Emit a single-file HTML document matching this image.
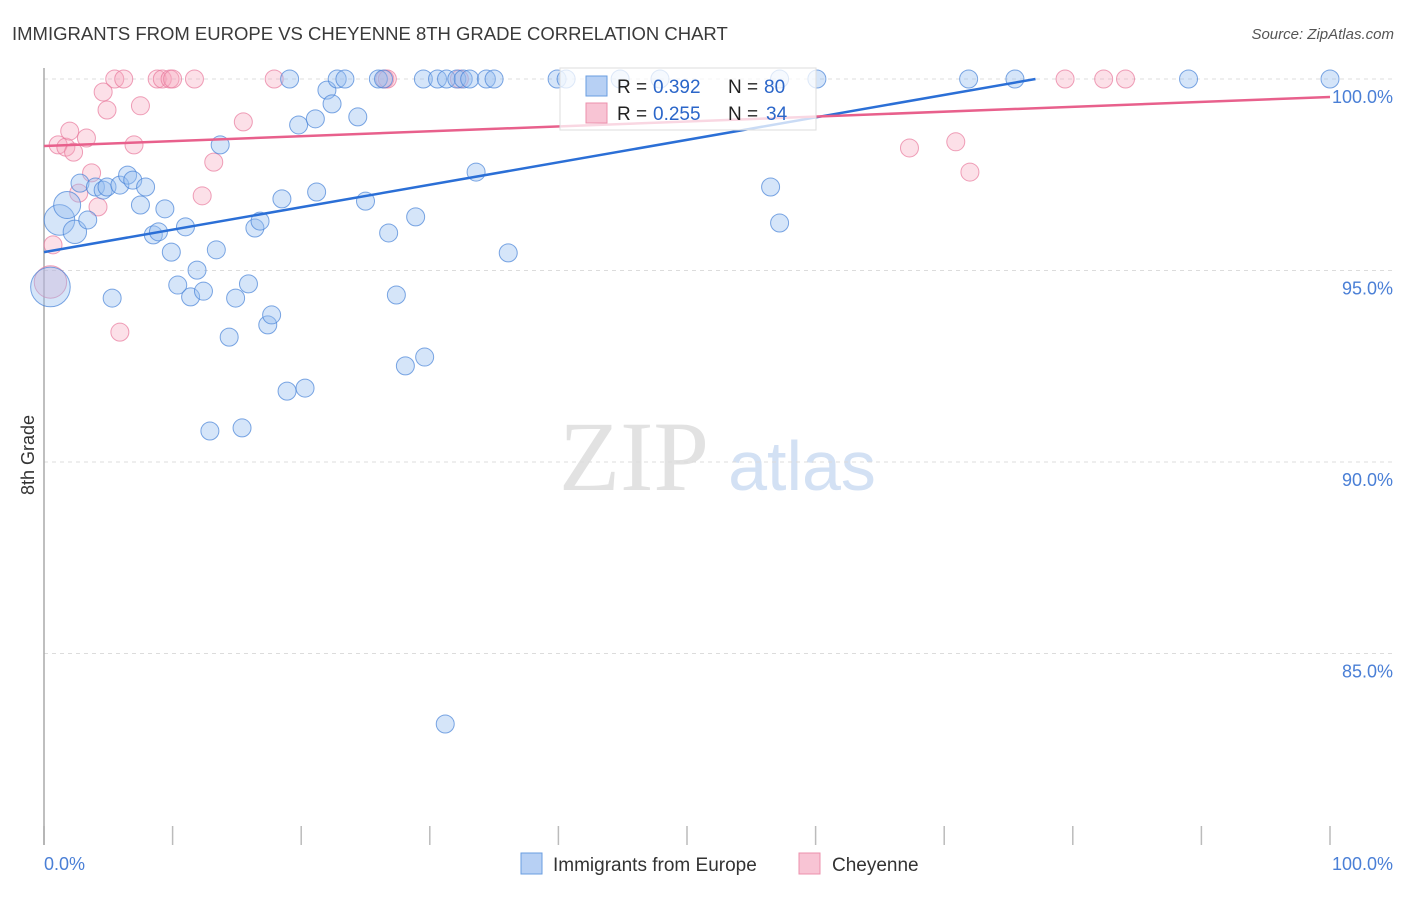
<!DOCTYPE html>
<html><head><meta charset="utf-8"><style>
body{margin:0;background:#fff;font-family:"Liberation Sans",sans-serif;}
</style></head><body>
<svg id="chart" width="1406" height="892" viewBox="0 0 1406 892" font-family="Liberation Sans, sans-serif">
<text x="12" y="40" font-size="18.5" fill="#3a3a3a">IMMIGRANTS FROM EUROPE VS CHEYENNE 8TH GRADE CORRELATION CHART</text>
<text x="1394" y="39" font-size="15" fill="#555" font-style="italic" text-anchor="end">Source: ZipAtlas.com</text>
<text transform="translate(34,455) rotate(-90)" font-size="18" fill="#333" text-anchor="middle">8th Grade</text>
<g>
<text x="634" y="490" font-size="100" fill="#e2e2e2" text-anchor="middle" style="font-family:'Liberation Serif',serif">ZIP</text>
<text x="802" y="490" font-size="70" fill="#d3e1f4" text-anchor="middle">atlas</text>
</g>
<g id="grid"></g>
<g id="ticks"></g>
<line x1="44" y1="68" x2="44" y2="845" stroke="#aaa" stroke-width="1.5"/>
<g id="pts"></g>
<g id="lines"></g>
<g>
<rect x="560" y="68" width="256" height="62" fill="rgba(255,255,255,0.75)" stroke="#ddd"/>
<rect x="586" y="76" width="21" height="20" fill="#b7d0f4" stroke="#6a9ee0"/>
<text x="617" y="93" font-size="19" fill="#222">R = </text>
<text x="653" y="93" font-size="19" fill="#2b66c9">0.392</text>
<text x="728" y="93" font-size="19" fill="#222">N = </text>
<text x="764" y="93" font-size="19" fill="#2b66c9">80</text>
<rect x="586" y="103" width="21" height="20" fill="#f8c4d4" stroke="#ec90ac"/>
<text x="617" y="120" font-size="19" fill="#222">R = </text>
<text x="653" y="120" font-size="19" fill="#2b66c9">0.255</text>
<text x="728" y="120" font-size="19" fill="#222">N = </text>
<text x="766" y="120" font-size="19" fill="#2b66c9">34</text>
</g>
<text x="44" y="870" font-size="18" fill="#4a7fd6">0.0%</text>
<text x="1393" y="870" font-size="18" fill="#4a7fd6" text-anchor="end">100.0%</text>
<g>
<rect x="521" y="853" width="21" height="21" fill="#b7d0f4" stroke="#6a9ee0"/>
<text x="553" y="871" font-size="19" fill="#333">Immigrants from Europe</text>
<rect x="799" y="853" width="21" height="21" fill="#f8c4d4" stroke="#ec90ac"/>
<text x="832" y="871" font-size="19" fill="#333">Cheyenne</text>
</g>
</svg>
<script>
const yTicks=[100,95,90,85];
const yTickLabels=["100.0%","95.0%","90.0%","85.0%"];
const xTicks=[0,10,20,30,40,50,60,70,80,90,100];
const blueX=[0.5,1.2,1.8,2.4,2.8,3.4,4.0,4.6,4.9,5.3,5.9,6.5,6.9,7.5,7.9,8.5,8.9,9.4,9.9,10.4,11.0,11.4,11.9,12.4,12.9,13.4,13.7,14.4,14.9,15.4,15.9,16.4,16.8,17.4,17.7,18.5,18.9,19.1,19.8,20.3,21.2,21.1,22.0,22.4,22.8,23.4,24.4,25.0,26.0,26.4,26.8,27.4,28.1,28.9,29.6,29.5,30.6,31.2,31.3,32.1,32.6,33.1,33.6,34.4,35.0,36.1,39.9,40.6,44.8,47.9,56.5,57.2,57.2,60.1,71.9,75.5,89.0,100];
const blueY=[94.57,96.32,96.71,96.01,97.28,96.32,97.18,97.10,97.18,94.28,97.23,97.49,97.36,96.71,97.18,95.93,96.01,96.61,95.48,94.62,96.14,94.31,95.01,94.46,90.81,95.54,98.28,93.26,94.28,90.89,94.65,96.11,96.29,93.58,93.84,96.87,91.85,100,98.80,91.93,97.05,98.96,99.71,99.35,100,100,99.01,96.81,100,100,95.98,94.36,92.51,96.40,92.74,100,100,83.16,100,100,100,100,97.57,100,100,95.46,100,100,100,100,97.18,96.24,100,100,100,100,100,100];
const blueSize=[2.2,1.7,1.5,1.3];
const pinkX=[0.5,0.7,1.1,1.7,2.0,2.3,2.7,3.3,3.7,4.2,4.6,4.9,5.5,6.2,7.0,7.5,5.9,8.8,9.2,9.8,10.0,11.7,12.3,13.2,15.5,17.9,26.5,26.7,32.3,67.3,70.9,72.0,79.4,82.4,84.1];
const pinkY=[94.70,95.67,98.28,98.22,98.64,98.09,97.02,98.46,97.55,96.66,99.66,99.19,100,100,98.28,99.30,93.39,100,100,100,100,100,96.95,97.83,98.88,100,100,100,100,98.20,98.36,97.57,100,100,100];
const pinkSize=[1.8];
const blueTrendX=[0,77.1];
const blueTrendY=[95.48,100];
const pinkTrendX=[0,100];
const pinkTrendY=[98.25,99.53];

const NS="http://www.w3.org/2000/svg";
const X=v=>44+v*12.86;
const Y=v=>79+(100-v)*38.3;
function mk(tag,attrs,parent){const e=document.createElementNS(NS,tag);for(const k in attrs)e.setAttribute(k,attrs[k]);parent.appendChild(e);return e;}
const grid=document.getElementById('grid');
yTicks.forEach((t,i)=>{
  const l=mk('line',{x1:44,x2:1392,y1:Y(t),y2:Y(t),stroke:'#dcdcdc','stroke-dasharray':'4,4'},grid);
  
  
  const tx=mk('text',{x:1393,y:Y(t)+24,'font-size':18,fill:'#4a7fd6','text-anchor':'end'},grid);
  tx.textContent=yTickLabels[i];
  
  
});
const ticks=document.getElementById('ticks');
xTicks.forEach(t=>{
  const l=mk('line',{x1:X(t),x2:X(t),y1:826,y2:845,stroke:'#bbb','stroke-width':1.5},ticks);
  
  
});
const pts=document.getElementById('pts');
pinkX.forEach((x,i)=>{
  const r=9*(pinkSize[i]||1);
  const c=mk('circle',{cx:X(x),cy:Y(pinkY[i]),r:r,fill:'rgba(245,165,190,0.35)',stroke:'rgba(232,120,155,0.7)','stroke-width':1},pts);
  
  
});
blueX.forEach((x,i)=>{
  const r=9*(blueSize[i]||1);
  const c=mk('circle',{cx:X(x),cy:Y(blueY[i]),r:r,fill:'rgba(150,190,240,0.4)',stroke:'rgba(70,130,215,0.7)','stroke-width':1},pts);
  
  
});
const lines=document.getElementById('lines');
const bl=mk('line',{x1:X(blueTrendX[0]),y1:Y(blueTrendY[0]),x2:X(blueTrendX[1]),y2:Y(blueTrendY[1]),stroke:'#2b6fd6','stroke-width':2.5},lines);


const pl=mk('line',{x1:X(pinkTrendX[0]),y1:Y(pinkTrendY[0]),x2:X(pinkTrendX[1]),y2:Y(pinkTrendY[1]),stroke:'#e8608c','stroke-width':2.5},lines);


</script>
</body></html>
